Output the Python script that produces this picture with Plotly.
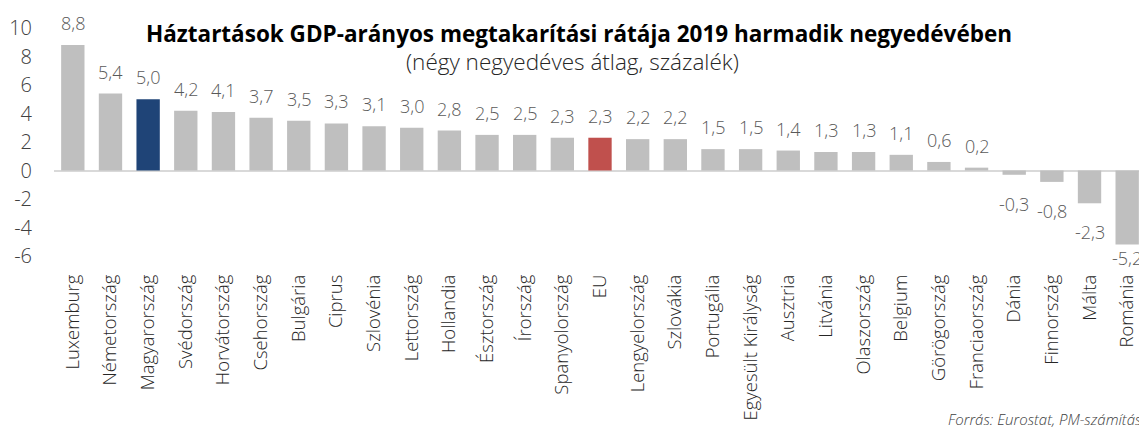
import plotly.graph_objects as go

countries = ["Luxemburg", "Németország", "Magyarország", "Svédország", "Horvátország",
             "Csehország", "Bulgária", "Ciprus", "Szlovénia", "Lettország", "Hollandia",
             "Észtország", "Írország", "Spanyolország", "EU", "Lengyelország", "Szlovákia",
             "Portugália", "Egyesült Királyság", "Ausztria", "Litvánia", "Olaszország",
             "Belgium", "Görögország", "Franciaország", "Dánia", "Finnország", "Málta", "Románia"]
values = [8.8, 5.4, 5.0, 4.2, 4.1, 3.7, 3.5, 3.3, 3.1, 3.0, 2.8, 2.5, 2.5, 2.3, 2.3,
          2.2, 2.2, 1.5, 1.5, 1.4, 1.3, 1.3, 1.1, 0.6, 0.2, -0.3, -0.8, -2.3, -5.2]
y_ticks = [-6, -4, -2, 0, 2, 4, 6, 8, 10]

title = "Háztartások GDP-arányos megtakarítási rátája 2019 harmadik negyedévében"
subtitle = "(négy negyedéves átlag, százalék)"
source = "Forrás: Eurostat, PM-számítás"

GRAY = "#BFBFBF"
BLUE = "#1F4477"
RED = "#C0504D"
colors = [BLUE if c == "Magyarország" else RED if c == "EU" else GRAY for c in countries]
labels = [f"{v:.1f}".replace(".", ",") for v in values]

FONT = "Open Sans"
Y_MIN, Y_MAX = -6, 10
PLOT_H = 228

fig = go.Figure(go.Bar(
    x=countries, y=values, marker=dict(color=colors, line=dict(width=0)),
    width=0.62, hoverinfo="x+y",
))

# data labels (Excel-like "outside end" placement)
label_ann = []
px_per_unit = PLOT_H / (Y_MAX - Y_MIN)
for c, v, t in zip(countries, values, labels):
    if v >= 0:
        y, shift = v, 22
    else:
        y, shift = v, -29
        if v + shift / px_per_unit < Y_MIN - 0.15:
            y, shift = Y_MIN, -2
    label_ann.append(dict(x=c, y=y, xref="x", yref="y", text=t, showarrow=False,
                          xanchor="center", yanchor="middle", yshift=shift,
                          font=dict(family=FONT, size=18, color="#595959", weight=300)))

# page body has an 8px default margin, so the figure is sized to fit the window
fig.update_layout(
    width=1139, height=423,
    margin=dict(l=46, r=1, t=20, b=175, autoexpand=False),
    plot_bgcolor="white", paper_bgcolor="white",
    showlegend=False,
    xaxis=dict(
        tickangle=-90, tickfont=dict(family=FONT, size=18.5, color="#262626", weight=300),
        showgrid=False, showline=False, ticks="", ticklabelstandoff=14, automargin=False,
    ),
    yaxis=dict(
        range=[Y_MIN, Y_MAX], tickvals=y_ticks, ticktext=[str(t) for t in y_ticks],
        tickfont=dict(family=FONT, size=20, color="#404040", weight=300),
        showgrid=False, zeroline=True, zerolinecolor="#D9D9D9", zerolinewidth=2,
        showline=False, ticks="", ticklabelstandoff=21, automargin=False,
    ),
    annotations=label_ann + [
        dict(text=f"<b>{title}</b>", x=0.4808, y=0.978, xref="paper", yref="paper",
             xanchor="center", yanchor="middle", showarrow=False,
             font=dict(family=FONT, size=22.5, color="black")),
        dict(text=subtitle, x=0.475, y=0.851, xref="paper", yref="paper",
             xanchor="center", yanchor="middle", showarrow=False,
             font=dict(family=FONT, size=22.5, color="#262626", weight=300)),
        dict(text=f"<i>{source}</i>", x=0.998, y=-0.715, xref="paper", yref="paper",
             xanchor="right", yanchor="middle", showarrow=False,
             font=dict(family=FONT, size=15, color="#404040", weight=300)),
    ],
)

fig.write_html("out.html")
